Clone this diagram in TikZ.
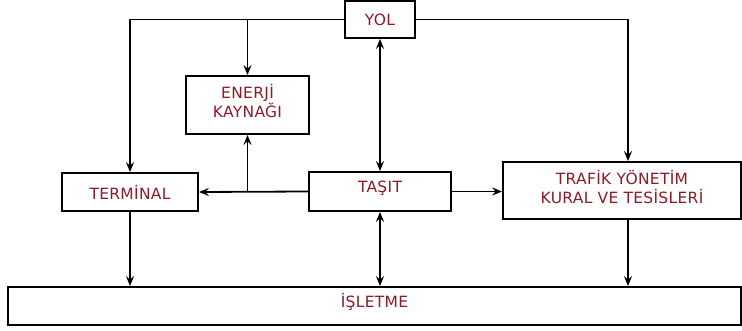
\documentclass[tikz,border=0pt]{standalone}
\usepackage{fontspec}
\setmainfont{DejaVu Sans}[LetterSpace=2]
\usetikzlibrary{arrows.meta,calc}
\definecolor{labelred}{RGB}{140,26,40}
\tikzset{
  box/.style={draw, line width=1.8pt, rectangle, inner sep=0pt, align=center,
    text=labelred, font=\fontsize{15.5}{19}\selectfont},
  tip/.style={Stealth[length=10pt,width=8pt,inset=3.5pt]},
  conn/.style={line width=1.8pt, -{Stealth[length=10pt,width=8pt,inset=3.5pt]}},
  both/.style={line width=1.8pt, {Stealth[length=10pt,width=8pt,inset=3.5pt]}-{Stealth[length=10pt,width=8pt,inset=3.5pt]}}
}
\begin{document}
\begin{tikzpicture}[x=1pt,y=-1pt]
  \useasboundingbox (0,0) rectangle (742,331);
  % blocks
  \node[box, minimum width=70pt, minimum height=37pt] (yol) at (380,19.5) {YOL};
  \node[box, minimum width=123pt, minimum height=58pt, text depth=8pt] (enerji) at (247.5,105) {ENERJİ\\KAYNAĞI};
  \node[box, minimum width=136pt, minimum height=38pt] (terminal) at (130,192) {TERMİNAL};
  \node[box, minimum width=142pt, minimum height=39pt, text depth=9pt] (tasit) at (380,191.5) {TAŞIT};
  \node[box, minimum width=238pt, minimum height=57pt, text depth=8pt] (trafik) at (622,190.5) {TRAFİK YÖNETİM\\KURAL VE TESİSLERİ};
  \node[box, minimum width=733pt, minimum height=38pt, text depth=12pt] (isletme) at (374.5,306) {İŞLETME};
  % junction points
  \coordinate (ytop) at (enerji.north |- yol.west);
  \coordinate (tjun) at (enerji.south |- tasit.west);
  \coordinate (trin) at ([xshift=6pt]trafik.north);
  \coordinate (trout) at ([xshift=6pt]trafik.south);
  % connectors from YOL
  \draw[conn] (yol.west) -| (terminal.north);
  \draw[conn] (ytop) -- (enerji.north);
  \draw[conn] (yol.east) -| (trin);
  \draw[both] (tasit.north) -- (yol.south);
  % connectors from TASIT
  \draw[conn] (tasit.west) -- (terminal.east);
  \draw[conn] (tjun) -- (enerji.south);
  \draw[conn] (tasit.east) -- (tasit.east -| trafik.west);
  \draw[both] (tasit.south) -- (tasit.south |- isletme.north);
  % into ISLETME
  \draw[conn] (terminal.south) -- (terminal.south |- isletme.north);
  \draw[conn] (trout) -- (trout |- isletme.north);
\end{tikzpicture}
\end{document}
